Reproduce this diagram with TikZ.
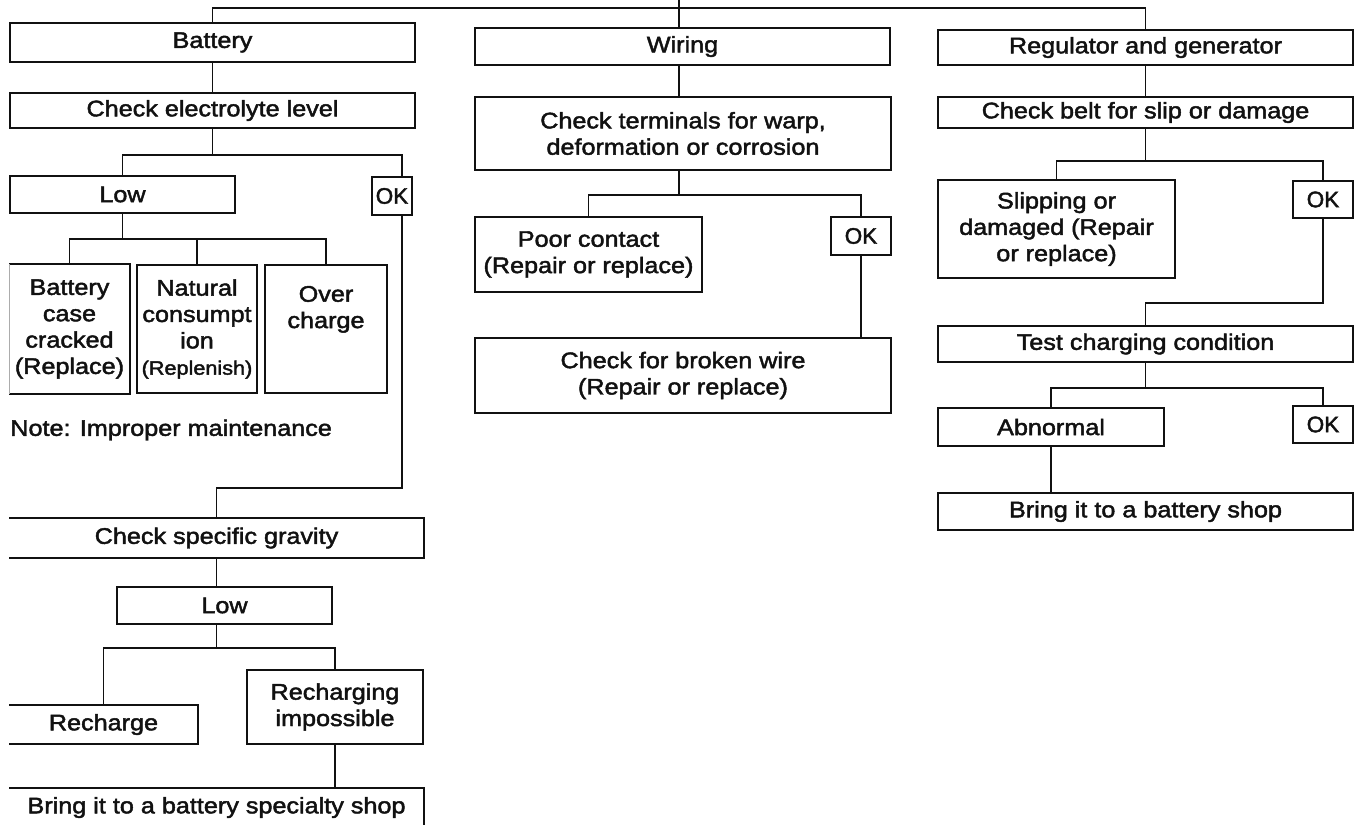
\documentclass[tikz,border=0pt]{standalone}
\usepackage{fontspec}
\setmainfont{Liberation Sans}[FakeStretch=1.12,FakeBold=2]
\newfontfamily\estrecha{Liberation Sans}[FakeBold=2]
\definecolor{tinta}{HTML}{111111}
\newcommand{\pxl}{0.02cm}
\tikzset{
  caja/.style={draw=tinta,line width=1.1pt,fill=white,inner sep=1pt,align=center,font=\fontsize{12.8}{15}\selectfont,text=tinta},
  abierta/.style={caja,draw=none},
  tam/.style 2 args={minimum width=#1*\pxl,minimum height=#2*\pxl},
  linea/.style={draw=tinta,line width=1.1pt},
  tenue/.style={draw=tinta!35,line width=0.5pt},
  nota/.style={font=\fontsize{12.8}{15}\selectfont,text=tinta,inner sep=0pt,anchor=west},
  okcaja/.style={caja,inner sep=0pt,font=\estrecha\fontsize{12.8}{15}\selectfont},
}
\begin{document}
\begin{tikzpicture}[x=0.02cm,y=-0.02cm]
\useasboundingbox (0,0) rectangle (1364,824);
\coordinate (tope) at (679,0);
\coordinate (bus) at (679,8);
\node[caja,tam={405}{39}] (bateria) at (212.5,42.5) {Battery};
\node[caja,tam={405}{35}] (nivel) at (212.5,110.5) {Check electrolyte level};
\node[caja,tam={225}{37}] (bajo) at (122.5,194.5) {Low};
\node[okcaja,tam={40}{38}] (ok1) at (392,196) {OK};
\node[abierta,tam={119}{128}] (caso) at (69.5,329) {Battery\\case\\cracked\\(Replace)};
\node[caja,tam={120}{128},inner sep=0pt] (natural) at (197,329) {Natural\\consumpt\\ion\\{\fontsize{11}{13}\selectfont(Replenish)}};
\node[caja,tam={122}{128}] (sobre) at (326,329) {Over\\charge\\[10pt]};
\node[nota] (nota) at (10,430) {Note: Improper maintenance};
\node[abierta,tam={413}{38}] (densidad) at (216.5,538) {Check specific gravity};
\node[caja,tam={215}{37}] (bajo2) at (224.5,605.5) {Low};
\node[abierta,tam={187}{37}] (recarga) at (103.5,724.5) {Recharge};
\node[caja,tam={176}{74}] (imposible) at (335,707) {Recharging\\impossible};
\node[abierta,tam={413}{37}] (tienda1) at (216.5,807.5) {Bring it to a battery specialty shop};
\node[caja,tam={415}{37}] (cable) at (682.5,46.5) {Wiring};
\node[caja,tam={416}{73}] (bornes) at (683,133.5) {Check terminals for warp,\\deformation or corrosion};
\node[caja,tam={227}{75}] (contacto) at (588.5,254.5) {Poor contact\\(Repair or replace)};
\node[okcaja,tam={60}{38}] (ok2) at (861,236) {OK};
\node[caja,tam={416}{75}] (roto) at (683,375.5) {Check for broken wire\\(Repair or replace)};
\node[caja,tam={415}{35}] (regulador) at (1145.5,47.5) {Regulator and generator};
\node[caja,tam={415}{31}] (correa) at (1145.5,112.5) {Check belt for slip or damage};
\node[caja,tam={237}{98}] (patina) at (1056.5,229) {Slipping or\\damaged (Repair\\or replace)};
\node[okcaja,tam={60}{37}] (ok3) at (1323,199.5) {OK};
\node[caja,tam={415}{36}] (carga) at (1145.5,344) {Test charging condition};
\node[caja,tam={226}{38}] (anormal) at (1051,427) {Abnormal};
\node[okcaja,tam={60}{37}] (ok4) at (1323,424.5) {OK};
\node[caja,tam={415}{37}] (tienda2) at (1145.5,511.5) {Bring it to a battery shop};
\draw[linea] (caso.north west) -- (caso.north east) -- (caso.south east) -- (caso.south west);
\draw[tenue] (caso.north west) -- (caso.south west);
\draw[linea] (densidad.north west) -- (densidad.north east) -- (densidad.south east) -- (densidad.south west);
\draw[linea] (recarga.north west) -- (recarga.north east) -- (recarga.south east) -- (recarga.south west);
\draw[linea] (tienda1.north west) -- (tienda1.north east) -- (tienda1.south east) -- (tienda1.south west);
\draw[linea] (tope) -- (tope |- cable.north);
\draw[linea] (bateria.north) |- (bus) -| (regulador.north);
\draw[linea] (bateria.south) -- (nivel.north);
\draw[linea] (nivel.south) -- ++(0,26) -| (bajo.north);
\draw[linea] (nivel.south) -- ++(0,26) -| ([xshift=10*\pxl]ok1.north);
\draw[linea] (bajo.south) -- ++(0,25) -| (caso.north);
\draw[linea] (bajo.south) -- ++(0,25) -| (natural.north);
\draw[linea] (bajo.south) -- ++(0,25) -| (sobre.north);
\draw[linea] ([xshift=10*\pxl]ok1.south) -- ++(0,272) -| (densidad.north);
\draw[linea] (densidad.south) -- (densidad.south |- bajo2.north);
\draw[linea] (densidad.south |- bajo2.south) -- ++(0,23) -| (recarga.north);
\draw[linea] (densidad.south |- bajo2.south) -- ++(0,23) -| (imposible.north);
\draw[linea] (imposible.south) -- (imposible.south |- tienda1.north);
\draw[linea] (tope |- cable.south) -- (tope |- bornes.north);
\draw[linea] (tope |- bornes.south) -- ++(0,24) -| (contacto.north);
\draw[linea] (tope |- bornes.south) -- ++(0,24) -| (ok2.north);
\draw[linea] (ok2.south) -- (ok2.south |- roto.north);
\draw[linea] (regulador.south) -- (correa.north);
\draw[linea] (correa.south) -- ++(0,32) -| (patina.north);
\draw[linea] (correa.south) -- ++(0,32) -| (ok3.north);
\draw[linea] (ok3.south) -- ++(0,84) -| (carga.north);
\draw[linea] (carga.south) -- ++(0,25) -| (anormal.north);
\draw[linea] (carga.south) -- ++(0,25) -| (ok4.north);
\draw[linea] (anormal.south) -- (anormal.south |- tienda2.north);
\end{tikzpicture}
\end{document}
